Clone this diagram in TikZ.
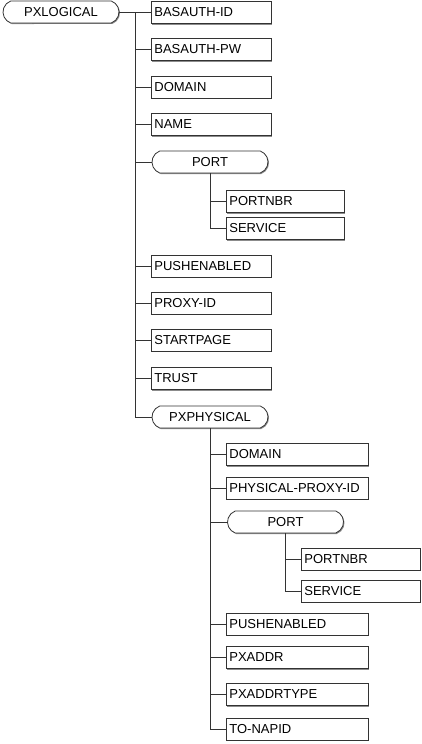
\documentclass[tikz,border=0pt]{standalone}
\usepackage{fontspec}
\setmainfont{Liberation Sans}
\usetikzlibrary{shapes.misc, shadows, positioning}
\tikzset{
	x=1pt, y=-1pt, % one unit is one pixel of the layout
	box/.style={draw=black!80, line width=0.8pt, fill=white, minimum height=22pt,
		drop shadow={shadow xshift=1pt, shadow yshift=-1pt, fill=black!45, opacity=1}}, % common look of all boxes
	field/.style={box, rectangle, anchor=west, inner sep=3pt, text width=#1, align=left}, % a leaf element
	field/.default=114pt,
	group/.style={box, rounded rectangle, rounded rectangle arc length=140,
		minimum width=120pt, inner sep=2pt}, % an element with children
	link/.style={draw=black!80, line width=0.8pt}, % tree connectors
}

\begin{document}
\begin{tikzpicture}[font=\fontsize{13}{15}\selectfont]
	\useasboundingbox (0,0) rectangle (421,744);

	\node[group] (lg) at (61,12) {PXLOGICAL};
	\node[field] (bid) at (151,12.5) {BASAUTH-ID};
	\node[field] (bpw) at (151,49.5) {BASAUTH-PW};
	\node[field] (dom) at (151,87) {DOMAIN};
	\node[field] (nam) at (151,124.5) {NAME};
	\node[group] (port) at (210,162) {PORT};
	\node[field=112pt] (pnbr) at (226,201.5) {PORTNBR};
	\node[field=112pt] (svc) at (226,228.5) {SERVICE};
	\node[field] (push) at (151,266) {PUSHENABLED};
	\node[field] (prx) at (151,303) {PROXY-ID};
	\node[field] (start) at (151,340) {STARTPAGE};
	\node[field] (trust) at (151,378.5) {TRUST};
	\node[group] (pxp) at (210,417) {PXPHYSICAL};
	\node[field=136pt] (dom2) at (226,454.5) {DOMAIN};
	\node[field=136pt] (ppid) at (226,488) {PHYSICAL-PROXY-ID};
	\node[group] (port2) at (285.5,522) {PORT};
	\node[field=113pt] (pnbr2) at (301,559) {PORTNBR};
	\node[field=113pt] (svc2) at (301,591) {SERVICE};
	\node[field=136pt] (push2) at (226,624) {PUSHENABLED};
	\node[field=136pt] (addr) at (226,657.5) {PXADDR};
	\node[field=136pt] (atype) at (226,694.5) {PXADDRTYPE};
	\node[field=136pt] (napid) at (226,729) {TO-NAPID};

	\coordinate (t1) at (135,12);
	\draw[link] (lg.east) -- (t1);
	\foreach \n in {bid,bpw,dom,nam,port,push,prx,start,trust,pxp}
		\draw[link] (t1) |- (\n.west);
	\foreach \n in {pnbr,svc}
		\draw[link] (port.south) |- (\n.west);
	\foreach \n in {dom2,ppid,port2,push2,addr,atype,napid}
		\draw[link] (pxp.south) |- (\n.west);
	\foreach \n in {pnbr2,svc2}
		\draw[link] (port2.south) |- (\n.west);
\end{tikzpicture}
\end{document}
